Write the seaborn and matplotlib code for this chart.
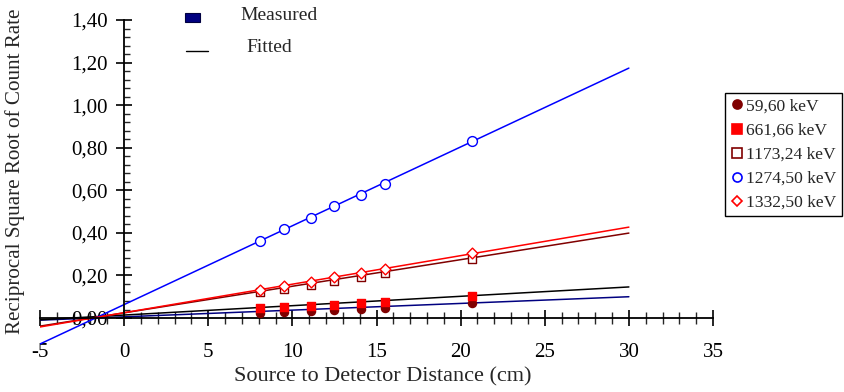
import matplotlib
matplotlib.use("Agg")
import matplotlib.pyplot as plt
from matplotlib.lines import Line2D
from matplotlib.patches import Rectangle
from matplotlib.ticker import FixedLocator, FuncFormatter
import seaborn as sns

# Measured points: source-to-detector distance and 1/sqrt(count rate)
distance_cm = [8.1, 9.5, 11.1, 12.5, 14.1, 15.5, 20.7]
energy_labels = ["59,60 keV", "661,66 keV", "1173,24 keV", "1274,50 keV", "1332,50 keV"]
rate_59 = [0.025, 0.030, 0.034, 0.039, 0.044, 0.048, 0.069]
rate_661 = [0.045, 0.050, 0.058, 0.062, 0.069, 0.077, 0.103]
rate_1173 = [0.120, 0.138, 0.156, 0.175, 0.194, 0.210, 0.278]
rate_1274 = [0.363, 0.418, 0.468, 0.526, 0.577, 0.629, 0.831]
rate_1332 = [0.131, 0.150, 0.171, 0.191, 0.210, 0.229, 0.307]

# Fitted straight lines, given by their end values
fit_x = [-5, 30]
fit_59 = [-0.010, 0.100]
fit_661 = [-0.008, 0.146]
fit_1173 = [-0.038, 0.399]
fit_1274 = [-0.122, 1.174]
fit_1332 = [-0.042, 0.427]

x_ticks = [-5, 0, 5, 10, 15, 20, 25, 30, 35]
y_ticks = [0.0, 0.2, 0.4, 0.6, 0.8, 1.0, 1.2, 1.4]

sns.set_style("ticks")
plt.rcParams["font.family"] = ["Liberation Serif", "DejaVu Serif"]

W, H = 845, 392
fig = plt.figure(figsize=(W / 100, H / 100), dpi=100)
ax = fig.add_axes([40 / W, 1 - 345.7 / H, (713 - 40) / W, (345.7 - 20) / H])
ax.set_xlim(-5, 35)
ax.set_ylim(-0.13, 1.40)

series = [
    # values, fit, point marker, point edge, point face, line colour, size
    (rate_59, fit_59, "o", "#800000", "#800000", "#000080", 34),
    (rate_661, fit_661, "s", "#ff0000", "#ff0000", "#000000", 40),
    (rate_1173, fit_1173, "s", "#800000", "white", "#800000", 40),
    (rate_1274, fit_1274, "o", "#0000ff", "white", "#0000ff", 50),
    (rate_1332, fit_1332, "D", "#ff0000", "white", "#ff0000", 30),
]

for vals, fit, mk, ec, fc, lc, s in series:
    sns.lineplot(x=fit_x, y=fit, color=lc, linewidth=1.1, ax=ax, zorder=2)

for vals, fit, mk, ec, fc, lc, s in series:
    sns.scatterplot(x=distance_cm, y=vals, marker=mk, s=s, ax=ax, zorder=3,
                    color=ec, edgecolor=ec, linewidth=1.0)
    coll = ax.collections[-1]
    coll.set_facecolor(fc)
    coll.set_edgecolor(ec)

# Axes crossing at the origin
for side in ("top", "right"):
    ax.spines[side].set_visible(False)
ax.spines["left"].set_position(("data", 0))
ax.spines["bottom"].set_position(("data", 0))
ax.spines["left"].set_bounds(0, 1.4)
ax.spines["bottom"].set_bounds(-5, 35)
for side in ("left", "bottom"):
    ax.spines[side].set_color("black")
    ax.spines[side].set_linewidth(1.3)

ax.xaxis.set_major_locator(FixedLocator(x_ticks))
ax.xaxis.set_minor_locator(FixedLocator(list(range(-5, 36))))
ax.yaxis.set_major_locator(FixedLocator(y_ticks))
ax.yaxis.set_minor_locator(FixedLocator([i * 0.04 for i in range(36)]))
ax.xaxis.set_major_formatter(FuncFormatter(lambda v, p: f"{v:.0f}"))
ax.yaxis.set_major_formatter(FuncFormatter(lambda v, p: f"{v:.2f}".replace(".", ",")))

ax.tick_params(axis="x", which="major", direction="inout", length=12, width=1.2,
               labelsize=15, pad=12, colors="black")
ax.tick_params(axis="x", which="minor", direction="inout", length=8, width=1.0)
ax.tick_params(axis="y", which="major", direction="inout", length=11, width=1.2,
               labelsize=15, pad=6, colors="black")
ax.tick_params(axis="y", which="minor", direction="in", length=4, width=1.0)

ax.set_xlabel("")
ax.set_ylabel("")
fig.text(383 / W, 1 - 377 / H, "Source to Detector Distance (cm)",
         ha="center", va="center", fontsize=16)
fig.text(15 / W, 1 - 171 / H, "Reciprocal Square Root of Count Rate",
         ha="center", va="center", rotation=90, fontsize=15.2)

# Energy legend on the right
energy_handles = [
    Line2D([], [], linestyle="none", marker=mk, markersize=6.5 if mk != "D" else 5,
           markerfacecolor=fc, markeredgecolor=ec, markeredgewidth=1.2)
    for vals, fit, mk, ec, fc, lc, s in series
]
leg = fig.legend(energy_handles, energy_labels, loc="upper right",
                 bbox_to_anchor=(842 / W, 1 - 93 / H), fontsize=12.6,
                 frameon=True, fancybox=False, framealpha=1, edgecolor="black",
                 handlelength=0.7, handletextpad=0.2, labelspacing=0.45,
                 borderpad=0.3, borderaxespad=0)
leg.get_frame().set_linewidth(1.0)

# Key for measured points and fitted lines
fig.add_artist(Rectangle((185 / W, 1 - 22 / H), 15 / W, 9 / H, transform=fig.transFigure,
                         facecolor="#000080", edgecolor="#000040", linewidth=0.8))
fig.add_artist(Line2D([186 / W, 208 / W], [1 - 51 / H, 1 - 51 / H],
                      transform=fig.transFigure, color="black", linewidth=1.0))
fig.text(240 / W, 1 - 15 / H, "Measured", ha="left", va="center", fontsize=14)
fig.text(246 / W, 1 - 48 / H, "Fitted", ha="left", va="center", fontsize=14)

fig.savefig("out.png", dpi=100)
